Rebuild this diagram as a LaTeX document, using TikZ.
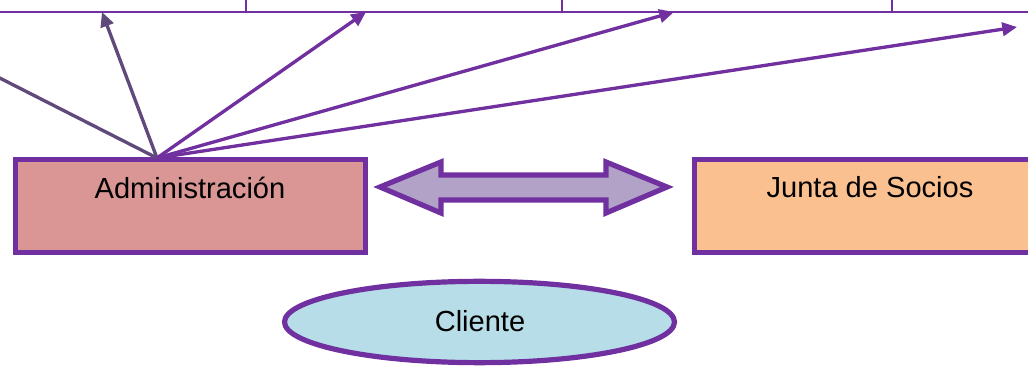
\documentclass[tikz,border=0pt]{standalone}
\usepackage{fontspec}
\setmainfont{Liberation Sans}
\usetikzlibrary{arrows.meta,shapes.geometric,calc}

\definecolor{purp}{HTML}{7030A0}
\definecolor{dpurp}{HTML}{604A7B}
\definecolor{pinkfill}{HTML}{D99694}
\definecolor{orangefill}{HTML}{FAC090}
\definecolor{bluefill}{HTML}{B7DDE8}
\definecolor{arrowfill}{HTML}{B3A2C7}

\tikzset{
  unitbox/.style={draw=purp, line width=3.9pt, rectangle, inner sep=0pt,
    minimum width=262.5pt, minimum height=69.7pt},
  ovalbox/.style={draw=purp, line width=3.9pt, ellipse, inner sep=0pt,
    fill=bluefill, minimum width=292.5pt, minimum height=61pt},
  labeltext/.style={anchor=base, inner sep=0pt, font=\fontsize{21.8}{26}\selectfont},
  ray/.style={line width=2.5pt, -{Triangle[length=11pt,width=10pt]}},
  rule/.style={draw=purp, line width=1.1pt},
}

\begin{document}
\begin{tikzpicture}[x=0.75pt, y=-0.75pt]
  \useasboundingbox (0,0) rectangle (1028,366);
  \clip (0,0) rectangle (1028,366);

  % chart frame along the top
  \draw[rule] (0,12) -- (1028,12);
  \draw[rule] (246,0) -- (246,12);
  \draw[rule] (562,0) -- (562,12);
  \draw[rule] (892,0) -- (892,12);

  % units
  \node[unitbox, fill=pinkfill] (adm) at (190.5,206) {};
  \node[labeltext] (admtext) at (190,199) {Administración};

  \node[unitbox, fill=orangefill] (junta) at (869.5,206) {};
  \node[labeltext] (juntatext) at (870,198) {Junta de Socios};

  \node[ovalbox] (cli) at (479.5,322) {};
  \node[labeltext] (clitext) at (480,332) {Cliente};

  % fan of arrows from the administration box
  \coordinate (hub) at (157,158);
  \coordinate (t0) at (-20,68);
  \coordinate (t1) at (102,12);
  \coordinate (t2) at (366,12);
  \coordinate (t3) at (674,12);
  \coordinate (t4) at (1017,27);
  \draw[line width=2.5pt, dpurp] (hub) -- (t0);
  \draw[ray, dpurp] (hub) -- (t1);
  \draw[ray, purp] (hub) -- (t2);
  \draw[ray, purp] (hub) -- (t3);
  \draw[ray, purp] (hub) -- (t4);

  % two-way block arrow between the boxes
  \draw[draw=purp, fill=arrowfill, line width=3.9pt, line join=miter]
    (380,187) -- (441,162) -- (441,175) -- (606,175) -- (606,162)
    -- (667,187) -- (606,213) -- (606,200) -- (441,200) -- (441,213) -- cycle;
\end{tikzpicture}
\end{document}
